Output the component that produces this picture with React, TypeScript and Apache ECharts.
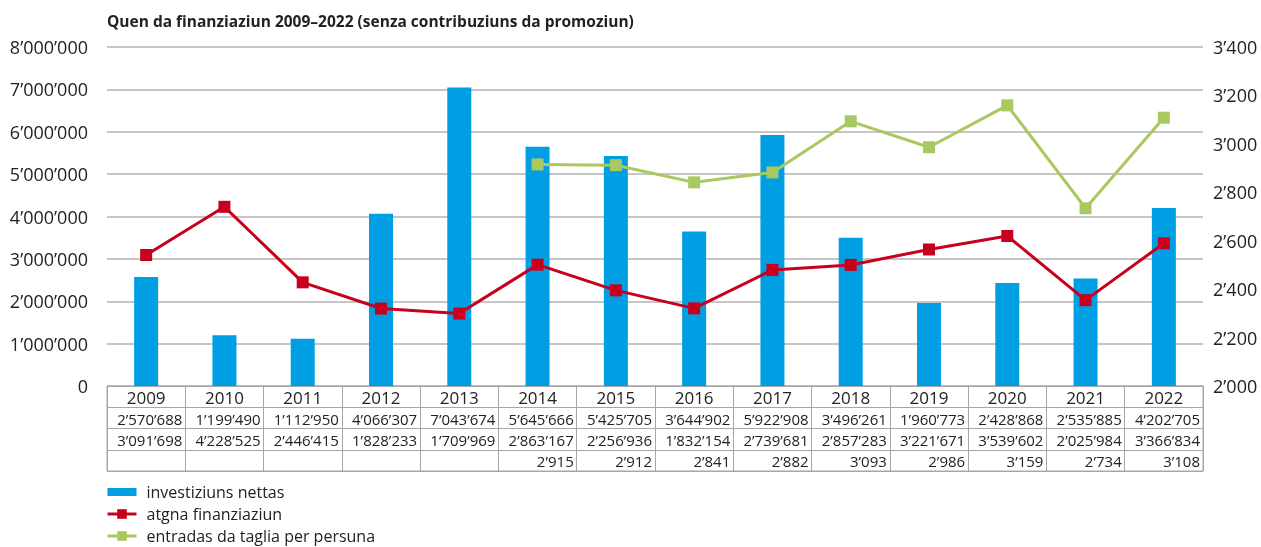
import React, { useEffect, useRef } from "react";
import * as echarts from "echarts";

const years = ["2009", "2010", "2011", "2012", "2013", "2014", "2015", "2016", "2017", "2018", "2019", "2020", "2021", "2022"];
const investiziuns = [2570688, 1199490, 1112950, 4066307, 7043674, 5645666, 5425705, 3644902, 5922908, 3496261, 1960773, 2428868, 2535885, 4202705];
const finanziaziun = [3091698, 4228525, 2446415, 1828233, 1709969, 2863167, 2256936, 1832154, 2739681, 2857283, 3221671, 3539602, 2025984, 3366834];
const taglia: (number | null)[] = [null, null, null, null, null, 2915, 2912, 2841, 2882, 3093, 2986, 3159, 2734, 3108];

const seriesNames = ["investiziuns nettas", "atgna finanziaziun", "entradas da taglia per persuna"];
const title = "Quen da finanziaziun 2009–2022 (senza contribuziuns da promoziun)";

const FONT = "'Open Sans', 'Noto Sans', sans-serif";

function fmt(v: number | null): string {
  if (v === null || v === undefined) return "";
  return String(Math.round(v)).replace(/\B(?=(\d{3})+(?!\d))/g, "\u2019");
}

export default function App() {
  const ref = useRef<HTMLDivElement>(null);
  useEffect(() => {
    if (!ref.current) return;
    const chart = echarts.init(ref.current, undefined, { renderer: "svg" });

    const tableRows: (string | number | null)[][] = [years, investiziuns, finanziaziun, taglia];
    const cells: { x: number; y: number; text: string }[] = [];
    tableRows.forEach((row, r) => {
      row.forEach((v, i) => {
        cells.push({ x: i, y: r, text: r === 0 ? String(v) : fmt(v as number | null) });
      });
    });

    chart.setOption({
      animation: false,
      textStyle: { fontFamily: FONT },
      title: {
        text: title,
        left: 102,
        top: 8,
        textStyle: { fontSize: 15.5, fontWeight: "bold", color: "#222", fontFamily: FONT },
      },
      legend: {
        orient: "vertical",
        left: 106,
        top: 484,
        padding: 0,
        itemWidth: 29,
        itemHeight: 12,
        itemGap: 6,
        data: [
          { name: seriesNames[0], icon: "path://M0,2H29V10H0Z" },
          { name: seriesNames[1] },
          { name: seriesNames[2] },
        ],
        lineStyle: { width: 3 },
        textStyle: { fontSize: 16, color: "#222", fontFamily: FONT, padding: [0, 0, 0, 5] },
      },
      grid: [
        { left: 107, right: 58, top: 47, height: 339, containLabel: false },
        {
          left: 107, right: 58, top: 386, height: 85, containLabel: false,
          show: true, borderColor: "#a6a6a6", borderWidth: 1, backgroundColor: "transparent",
        },
      ],
      xAxis: [
        {
          type: "category", data: years, gridIndex: 0,
          axisLine: { show: false }, axisTick: { show: false }, axisLabel: { show: false },
        },
        {
          type: "category", data: years, gridIndex: 1,
          axisLine: { show: false }, axisTick: { show: false }, axisLabel: { show: false },
          splitLine: { show: true, interval: 0, lineStyle: { color: "#a6a6a6", width: 1 } },
        },
      ],
      yAxis: [
        {
          type: "value", gridIndex: 0, min: 0, max: 8000000, interval: 1000000,
          axisLine: { show: false }, axisTick: { show: false },
          axisLabel: { fontSize: 18, color: "#222", margin: 19, formatter: (v: number) => fmt(v), fontFamily: FONT },
          splitLine: { show: true, lineStyle: { color: "#b3b3b3", width: 1.5 } },
        },
        {
          type: "value", gridIndex: 0, position: "right", min: 2000, max: 3400, interval: 200,
          axisLine: { show: false }, axisTick: { show: false },
          axisLabel: { fontSize: 18, color: "#222", margin: 10, formatter: (v: number) => fmt(v), fontFamily: FONT },
          splitLine: { show: false },
        },
        {
          type: "category", gridIndex: 1, data: ["0", "1", "2", "3"], inverse: true,
          axisLine: { show: false }, axisTick: { show: false }, axisLabel: { show: false },
          splitLine: { show: true, interval: 0, lineStyle: { color: "#a6a6a6", width: 1 } },
        },
      ],
      series: [
        {
          name: seriesNames[0], type: "bar", data: investiziuns, xAxisIndex: 0, yAxisIndex: 0,
          barWidth: 24, itemStyle: { color: "#009fe3" }, z: 1,
        },
        {
          name: seriesNames[1], type: "line", data: finanziaziun, xAxisIndex: 0, yAxisIndex: 0,
          symbol: "rect", symbolSize: 12, lineStyle: { color: "#c8001e", width: 3 },
          itemStyle: { color: "#c8001e" }, z: 3,
        },
        {
          name: seriesNames[2], type: "line", data: taglia, xAxisIndex: 0, yAxisIndex: 1,
          symbol: "rect", symbolSize: 12, lineStyle: { color: "#a9c85f", width: 3 },
          itemStyle: { color: "#a9c85f" }, z: 3,
        },
        {
          type: "custom", xAxisIndex: 1, yAxisIndex: 2, silent: true,
          data: cells.map((c) => [c.x, c.y]),
          renderItem: (params: any, api: any) => {
            const c = cells[params.dataIndex];
            const pt = api.coord([api.value(0), api.value(1)]);
            const size = api.size([1, 1]);
            const isYear = c.y === 0;
            return {
              type: "text",
              x: isYear ? pt[0] : pt[0] + size[0] / 2 - 3,
              y: pt[1] + 1,
              style: {
                text: c.text,
                textAlign: isYear ? "center" : "right",
                textVerticalAlign: "middle",
                fontSize: isYear ? 17 : 15,
                fontFamily: FONT,
                fill: "#222",
              },
            };
          },
        },
      ],
    });
    return () => chart.dispose();
  }, []);
  return <div ref={ref} style={{ position: "fixed", left: 0, top: 0, width: 1261, height: 547 }} />;
}
